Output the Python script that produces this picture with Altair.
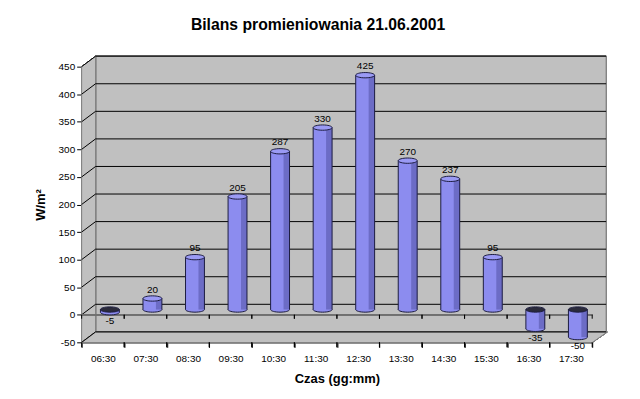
import altair as alt
import pandas as pd

categories = ["06:30", "07:30", "08:30", "09:30", "10:30", "11:30",
              "12:30", "13:30", "14:30", "15:30", "16:30", "17:30"]
values = [-5, 20, 95, 205, 287, 330, 425, 270, 237, 95, -35, -50]
y_ticks = [-50, 0, 50, 100, 150, 200, 250, 300, 350, 400, 450]

W, H = 513, 277
STEP = W / len(categories)
DX, DY = 14, -10.5          # depth of the 3D box
MX, MY = 7, -5.25           # bars sit mid-depth
BW = 19                     # cylinder width

df = pd.DataFrame({"cat": categories, "v": values})
df["top"] = df["v"].clip(lower=0)
df["bot"] = df["v"].clip(upper=0)
df["pos"] = df["v"] >= 0
df["lbl"] = df["v"].astype(str)
grid = pd.DataFrame({"g": y_ticks})

FONT = "Liberation Sans"
BODY = "#8c8cef"
SHADE = "#6c6cc6"
EDGE = "#1c1c40"
WALL = "#c0c0c0"

xs = alt.Scale(domain=categories, paddingInner=0, paddingOuter=0)
ys = alt.Scale(domain=[-50, 450], nice=False, zero=False)

AX = alt.Axis(title="Czas (gg:mm)", labelAngle=0, tickBand="extent", ticks=True,
              domainColor="#000", tickColor="#000", tickSize=5, tickWidth=1,
              labelPadding=6, titlePadding=9, titleFontSize=13)
AY = alt.Axis(title="W/m²", values=y_ticks, grid=False, labelOverlap=False,
              labelExpr="'' + datum.value",
              domainColor="#000", tickColor="#000", tickSize=5,
              labelPadding=2, titlePadding=11, titleFontSize=13)

def xc():
    return alt.X("cat:N", scale=xs, sort=categories, axis=AX)

def yf(f):
    return alt.Y(f, scale=ys, axis=AY)

base = alt.Chart(df)

def ell(k):
    c = 0.552
    return (f"M-1,0 C-1,{-c*k} {-c},{-k} 0,{-k} C{c},{-k} 1,{-c*k} 1,0 "
            f"C1,{c*k} {c},{k} 0,{k} C{-c},{k} -1,{c*k} -1,0 Z")

# 3D box: back wall, side wall, floor
back = alt.Chart(grid).mark_rect(color=WALL, stroke="#808080", strokeWidth=1,
                                 xOffset=DX, x2Offset=DX, yOffset=DY, y2Offset=DY).encode(
    x=alt.value(0), x2=alt.value(W), y=alt.datum(450, scale=ys, axis=AY), y2=alt.datum(-50))
sx = 7 / 143.9
side_path = f"M{-sx},-0.927 L{sx},-1 L{sx},0.927 L{-sx},1 Z"
side = alt.Chart(grid).mark_point(shape=side_path, size=287.8 ** 2, filled=True,
                                  fill=WALL, stroke="#808080", strokeWidth=1, opacity=1).encode(
    x=alt.value(7), y=alt.value(133.4))
fy = 5.25 / 264
floor_path = f"M-1,{fy} L-0.947,{-fy} L1,{-fy} L0.943,{fy} Z"
floor = alt.Chart(grid).mark_point(shape=floor_path, size=528 ** 2, filled=True,
                                   fill=WALL, stroke="#808080", strokeWidth=1, opacity=1).encode(
    x=alt.value(264), y=alt.value(272))

gridlines = alt.Chart(grid).mark_rule(color="#000", strokeWidth=1, yOffset=DY, y2Offset=DY).encode(
    x=alt.value(DX), x2=alt.value(W + DX), y=yf("g:Q"), y2="g:Q")
diag = alt.Chart(grid).mark_rule(color="#000", strokeWidth=1, y2Offset=DY).encode(
    x=alt.value(0), x2=alt.value(DX), y=yf("g:Q"), y2="g:Q")

zero_line = alt.Chart(grid).mark_rule(color="#707070", strokeWidth=1).encode(
    x=alt.value(0), x2=alt.value(W), y=alt.datum(0, scale=ys, axis=AY))
zt1 = base.mark_rule(color="#000", y2Offset=4, xOffset=-STEP / 2).encode(
    x=xc(), y=alt.datum(0, scale=ys, axis=AY), y2=alt.datum(0))
zt2 = base.mark_rule(color="#000", y2Offset=4, xOffset=STEP / 2).encode(
    x=xc(), y=alt.datum(0, scale=ys, axis=AY), y2=alt.datum(0))
# ticks on the bottom (front floor) edge
bt1 = base.mark_rule(color="#000", y2Offset=5, xOffset=-STEP / 2).encode(
    x=xc(), y=alt.datum(-50, scale=ys, axis=AY), y2=alt.datum(-50))
bt2 = base.mark_rule(color="#000", y2Offset=5, xOffset=STEP / 2).encode(
    x=xc(), y=alt.datum(-50, scale=ys, axis=AY), y2=alt.datum(-50))

# cylinders
bottom_cap = base.mark_point(shape=ell(0.28), size=BW ** 2, filled=True, fill=BODY,
                             stroke=EDGE, strokeWidth=1, opacity=1, xOffset=MX, yOffset=MY).encode(
    x=xc(), y=yf("bot:Q"))
body = base.mark_bar(width=BW, color=BODY, xOffset=MX, yOffset=MY, y2Offset=MY).encode(
    x=xc(), y=yf("v:Q"), y2=alt.datum(0))
shade = base.mark_bar(width=6, color=SHADE, xOffset=MX + BW / 2 - 3, yOffset=MY, y2Offset=MY).encode(
    x=xc(), y=yf("v:Q"), y2=alt.datum(0))
edge_l = base.mark_rule(color=EDGE, xOffset=MX - BW / 2, yOffset=MY, y2Offset=MY).encode(
    x=xc(), y=yf("v:Q"), y2=alt.datum(0))
edge_r = base.mark_rule(color=EDGE, xOffset=MX + BW / 2, yOffset=MY, y2Offset=MY).encode(
    x=xc(), y=yf("v:Q"), y2=alt.datum(0))
top_cap = base.mark_point(shape=ell(0.28), size=BW ** 2, filled=True,
                          stroke=EDGE, strokeWidth=1, opacity=1, xOffset=MX, yOffset=MY).encode(
    x=xc(), y=yf("top:Q"),
    fill=alt.Fill("pos:N", scale=alt.Scale(domain=[True, False], range=["#9a9af4", "#2a2a3a"]),
                  legend=None))

lbl_pos = base.transform_filter("datum.v >= 0").mark_text(
    font=FONT, fontSize=10, color="#000", baseline="bottom", dx=MX, dy=MY - 4).encode(
    x=xc(), y=yf("v:Q"), text="lbl:N")
lbl_neg = base.transform_filter("datum.v < 0").mark_text(
    font=FONT, fontSize=10, color="#000", baseline="top", dx=MX, dy=MY + 4).encode(
    x=xc(), y=yf("v:Q"), text="lbl:N")

chart = alt.layer(
    back, side, floor, gridlines, diag, zero_line, zt1, zt2, bt1, bt2,
    bottom_cap, body, shade, edge_l, edge_r, top_cap, lbl_pos, lbl_neg
).properties(
    width=W, height=H,
    autosize=alt.AutoSizeParams(type="none"),
    padding={"left": 74, "top": 58, "right": 40, "bottom": 50},
    title=alt.Title("Bilans promieniowania 21.06.2001", font=FONT, fontSize=15.8,
                    fontWeight="bold", color="#000", offset=21, dx=-19),
).configure_view(stroke=None).configure_axis(
    labelFont=FONT, labelFontSize=11, labelColor="#000",
    titleFont=FONT, titleFontWeight="bold", titleColor="#000",
).configure(background="white")

chart.save("out.html", embed_options={"renderer": "svg", "actions": False})
